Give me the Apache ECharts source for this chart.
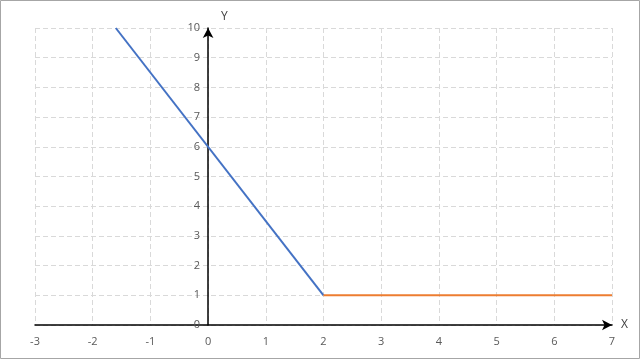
<!DOCTYPE html>
<html>
<head>
<meta charset="utf-8">
<script src="https://cdn.jsdelivr.net/npm/echarts@6/dist/echarts.min.js"></script>
<style>
html,body{margin:0;padding:0;background:#fff;}
#main{width:640px;height:359px;}
</style>
</head>
<body>
<div id="main"></div>
<script>
var xTicks = [-3, 7, 1];
var yTicks = [0, 10, 1];
var blueLine = [[-1.6, 10], [2, 1]];
var orangeLine = [[2, 1], [7, 1]];
var axisNames = ['X', 'Y'];

var gridLeft = 35, gridRight = 28;
var plotW = 640 - gridLeft - gridRight;
// shift the y axis (line + labels) to x = 0 using the axis scale
var yOffset = -plotW * (0 - xTicks[0]) / (xTicks[1] - xTicks[0]);

var chart = echarts.init(document.getElementById('main'));
var labelStyle = { color: '#595959', fontSize: 11, fontFamily: 'Open Sans, sans-serif' };
var gridLine = { show: true, lineStyle: { color: '#d9d9d9', type: [5, 3], width: 1 } };
chart.setOption({
  animation: false,
  backgroundColor: '#fff',
  graphic: [{
    type: 'rect', shape: { x: 0.5, y: 0.5, width: 639, height: 358 },
    style: { fill: 'none', stroke: '#a6a6a6', lineWidth: 1 }, z: 100
  }],
  grid: { left: gridLeft, right: gridRight, top: 28, bottom: 34 },
  xAxis: {
    type: 'value', min: xTicks[0], max: xTicks[1], interval: xTicks[2],
    name: axisNames[0], nameLocation: 'end', nameGap: 9,
    nameTextStyle: { color: '#404040', fontSize: 12, fontFamily: 'Open Sans, sans-serif', padding: [0, 0, 10, 0] },
    axisLine: { onZero: true, symbol: ['none', 'arrow'], symbolSize: [8, 10], lineStyle: { color: '#000', width: 1.5 } },
    axisTick: { show: false },
    axisLabel: Object.assign({ margin: 11 }, labelStyle),
    splitLine: gridLine
  },
  yAxis: {
    type: 'value', min: yTicks[0], max: yTicks[1], interval: yTicks[2],
    offset: yOffset,
    name: axisNames[1], nameLocation: 'end', nameGap: 5,
    nameTextStyle: { color: '#404040', fontSize: 12, fontFamily: 'Open Sans, sans-serif', align: 'left', padding: [0, 0, 0, 13] },
    axisLine: { onZero: false, symbol: ['none', 'arrow'], symbolSize: [8, 10], lineStyle: { color: '#000', width: 1.5 } },
    axisTick: { show: false },
    axisLabel: Object.assign({ margin: 8 }, labelStyle),
    splitLine: gridLine
  },
  series: [
    { type: 'line', data: blueLine, showSymbol: false, symbol: 'none', lineStyle: { color: '#4472C4', width: 2 }, z: 3 },
    { type: 'line', data: orangeLine, showSymbol: false, symbol: 'none', lineStyle: { color: '#ED7D31', width: 2 }, z: 3 }
  ]
});
</script>
</body>
</html>
